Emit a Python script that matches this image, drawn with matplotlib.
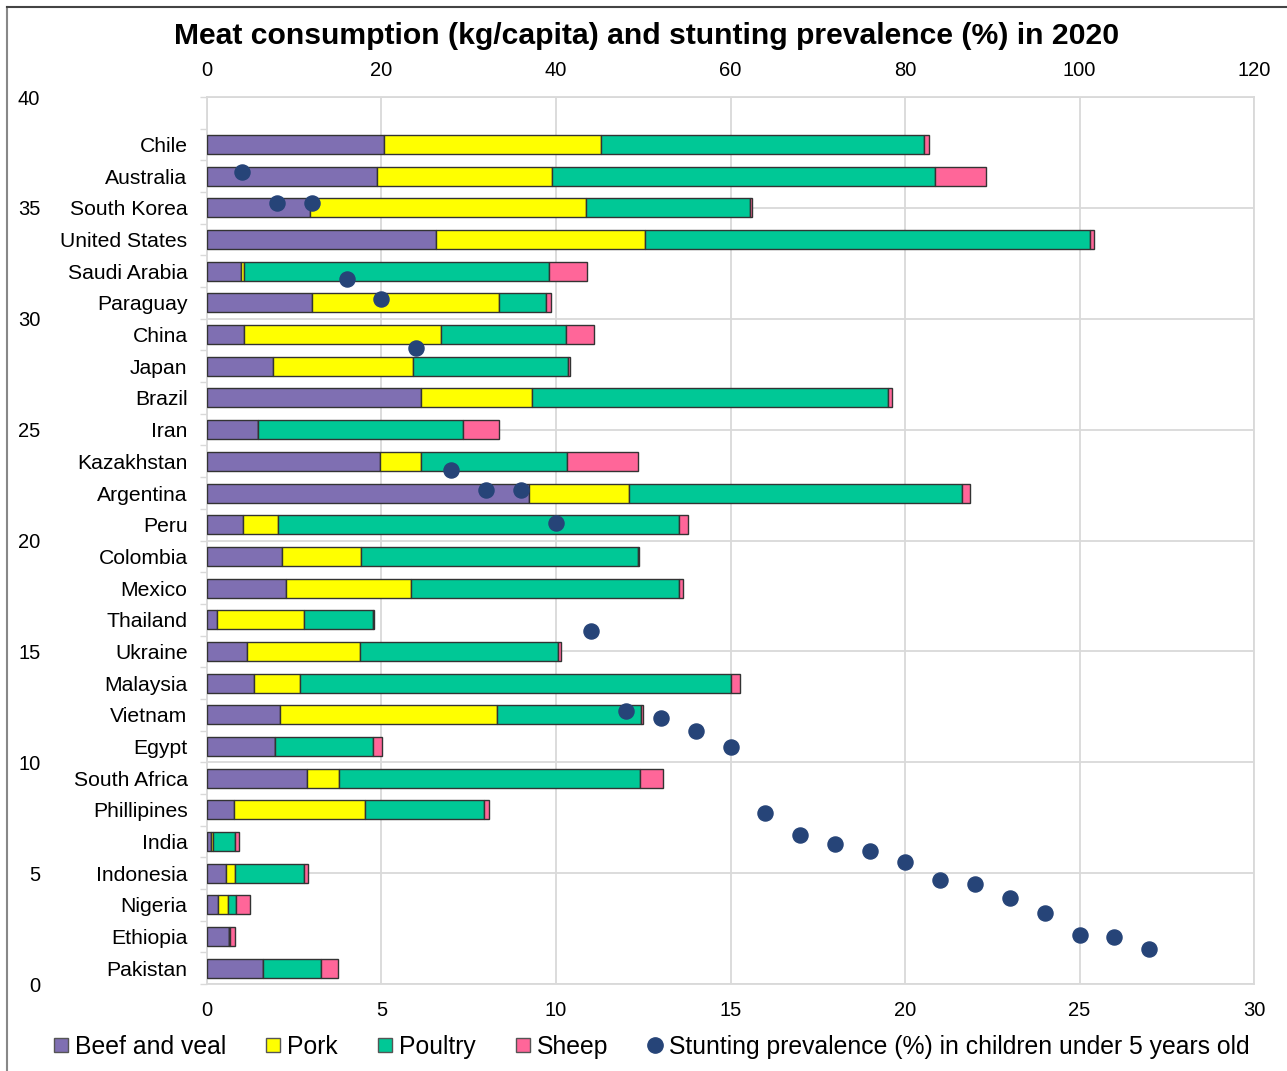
import numpy as np
import matplotlib.pyplot as plt
from matplotlib.lines import Line2D

plt.rcParams['font.family'] = ['Liberation Sans', 'DejaVu Sans']

# data, listed top to bottom as in the chart
countries = ['Chile', 'Australia', 'South Korea', 'United States', 'Saudi Arabia', 'Paraguay',
             'China', 'Japan', 'Brazil', 'Iran', 'Kazakhstan', 'Argentina', 'Peru', 'Colombia',
             'Mexico', 'Thailand', 'Ukraine', 'Malaysia', 'Vietnam', 'Egypt', 'South Africa',
             'Phillipines', 'India', 'Indonesia', 'Nigeria', 'Ethiopia', 'Pakistan']
beef = [20.3, 19.5, 11.8, 26.2, 3.9, 12.0, 4.2, 7.6, 24.5, 5.8, 19.8, 36.9, 4.1, 8.6,
        9.1, 1.1, 4.6, 5.4, 8.4, 7.8, 11.5, 3.1, 0.5, 2.2, 1.3, 2.5, 6.4]
pork = [24.9, 20.0, 31.6, 24.0, 0.3, 21.5, 22.6, 16.0, 12.7, 0.0, 4.7, 11.5, 4.0, 9.1,
        14.3, 10.0, 12.9, 5.3, 24.8, 0.0, 3.6, 15.0, 0.2, 1.0, 1.1, 0.0, 0.0]
poultry = [37.0, 43.9, 18.8, 51.0, 35.0, 5.4, 14.3, 17.8, 40.9, 23.5, 16.8, 38.1, 46.0, 31.7,
           30.7, 7.9, 22.7, 49.4, 16.5, 11.2, 34.5, 13.6, 2.5, 7.9, 0.9, 0.1, 6.7]
sheep = [0.6, 5.9, 0.3, 0.5, 4.4, 0.5, 3.3, 0.2, 0.4, 4.2, 8.1, 0.9, 1.0, 0.1,
         0.5, 0.1, 0.4, 1.0, 0.3, 1.1, 2.7, 0.6, 0.5, 0.5, 1.6, 0.6, 1.9]
stunting = [36.6, 35.2, 35.2, 31.8, 30.9, 28.7, 23.2, 22.3, 22.3, 20.8, 15.9, 12.3, 12.0, 11.4,
            10.7, 7.7, 6.7, 6.3, 6.0, 5.5, 4.7, 4.5, 3.9, 3.2, 2.2, 2.1, 1.6]

series = [('Beef and veal', beef, '#7F6FB2'),
          ('Pork', pork, '#FFFF00'),
          ('Poultry', poultry, '#00C896'),
          ('Sheep', sheep, '#FF6699')]
dot_color = '#264478'
grid_color = '#D9D9D9'

fig = plt.figure(figsize=(12.87, 10.71), dpi=100)
pos = [0.1608, 0.0812, 0.8136, 0.8282]

# back axes: stunting scale + grid
ax = fig.add_axes(pos)
ax.set_xlim(0, 30)
ax.set_ylim(0, 40)
ax.set_xticks(np.arange(0, 31, 5))
ax.set_yticks(np.arange(0, 41, 5))
ax.grid(True, color=grid_color, lw=1.3)
ax.set_axisbelow(True)
ax.tick_params(axis='x', length=0, pad=12, labelsize=14.5)
ax.tick_params(axis='y', length=0, pad=120, labelsize=14.5)
for sp in ax.spines.values():
    sp.set_color(grid_color)
    sp.set_linewidth(1.3)

# middle axes: stacked bars on the top scale
ax_bar = fig.add_axes(pos)
ax_bar.patch.set_visible(False)
ypos = np.arange(len(countries))[::-1]
left = np.zeros(len(countries))
for name, vals, col in series:
    ax_bar.barh(ypos, vals, left=left, height=0.6, color=col, edgecolor='#333333', lw=1)
    left = left + np.array(vals)
ax_bar.set_xlim(0, 120)
ax_bar.set_ylim(-0.5, 27.5)
ax_bar.xaxis.tick_top()
ax_bar.set_xticks(np.arange(0, 121, 20))
ax_bar.set_yticks(ypos)
ax_bar.set_yticklabels(countries)
ax_bar.set_yticks(np.arange(-0.5, 27.6, 1), minor=True)
ax_bar.tick_params(axis='x', length=0, pad=12, labelsize=14.5)
ax_bar.tick_params(axis='y', which='major', length=0, pad=14, labelsize=15.2)
ax_bar.tick_params(axis='y', which='minor', length=5, width=1, color=grid_color)
for sp in ax_bar.spines.values():
    sp.set_visible(False)

# front axes: stunting dots
ax_dot = fig.add_axes(pos, sharex=ax, sharey=ax)
ax_dot.patch.set_visible(False)
ax_dot.axis('off')
ax_dot.scatter(np.arange(1, len(stunting) + 1), stunting, s=118, color=dot_color, zorder=3)

fig.text(0.502, 0.9665, 'Meat consumption (kg/capita) and stunting prevalence (%) in 2020',
         ha='center', va='center', fontsize=21.7, fontweight='bold')

handles = [Line2D([], [], ls='none', marker='s', markersize=9.5, markerfacecolor=c,
                  markeredgecolor='#555555', markeredgewidth=1) for _, _, c in series]
handles.append(Line2D([], [], ls='none', marker='o', markersize=11, markerfacecolor=dot_color,
                      markeredgecolor=dot_color))
labels = [s[0] for s in series] + ['Stunting prevalence (%) in children under 5 years old']
fig.legend(handles, labels, loc='center', bbox_to_anchor=(0.506, 0.0224), ncol=5,
           frameon=False, fontsize=17.8, handlelength=0.7, handletextpad=0.22,
           columnspacing=1.55)

# chart border
fig.add_artist(Line2D([0.0055, 0.0055], [0, 0.9935], color='#888888', lw=1.5))
fig.add_artist(Line2D([0.0055, 1], [0.9935, 0.9935], color='#444444', lw=1.5))

fig.savefig('out.png', dpi=100)
